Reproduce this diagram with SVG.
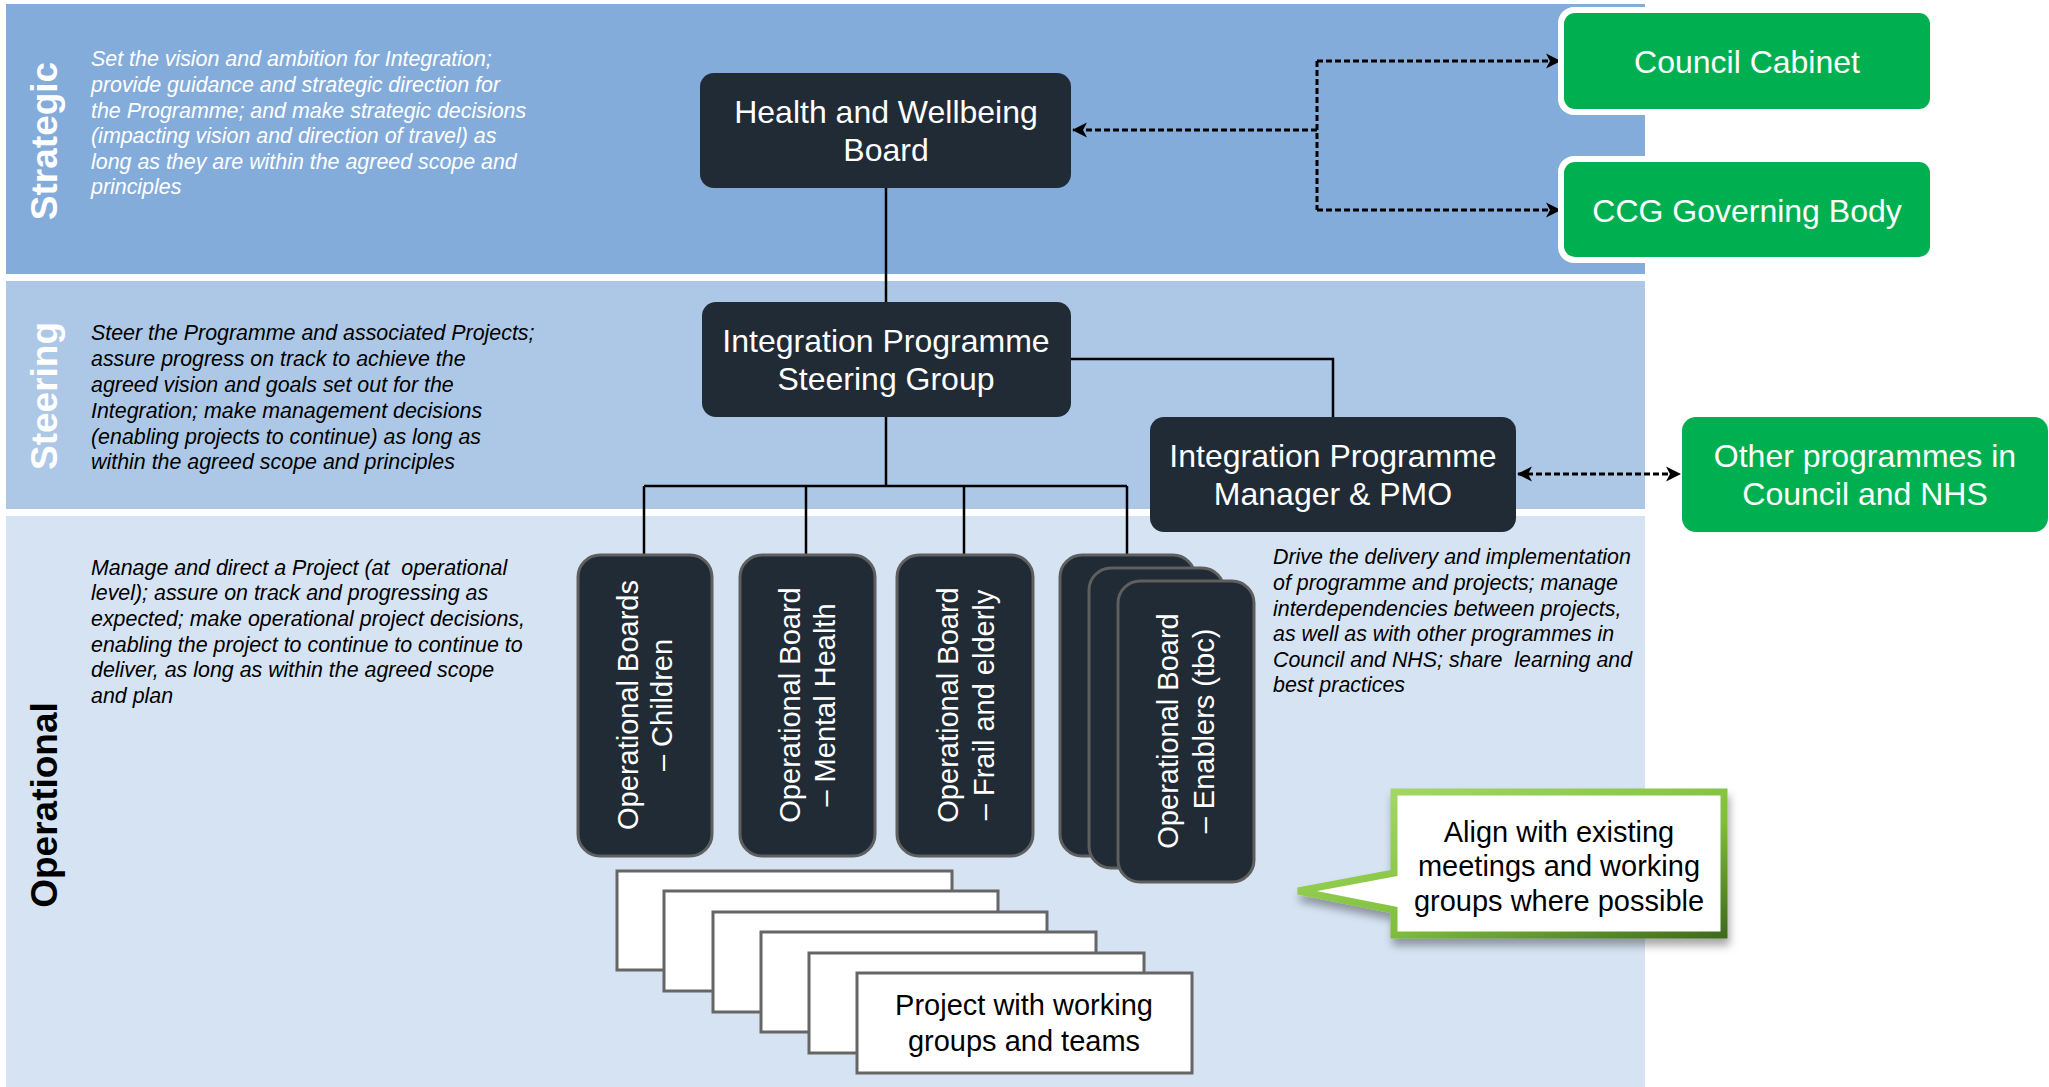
<svg xmlns="http://www.w3.org/2000/svg" width="2049" height="1087" viewBox="0 0 2049 1087">
  <style>
    text { font-family: "Liberation Sans", Arial, sans-serif; white-space: pre; }
    .band-label { font-size: 37px; font-weight: bold; text-anchor: middle; }
    .desc { font-size: 21.4px; font-style: italic; }
    .node-dark { fill: #212b36; }
    .node-text { fill: #ffffff; font-size: 32px; text-anchor: middle; }
    .board { fill: #212b36; stroke: #5f5f5f; stroke-width: 3; }
    .board-text { fill: #ffffff; font-size: 29px; text-anchor: middle; }
    .green { fill: #00b050; }
    .halo { fill: #ffffff; }
    .project { fill: #ffffff; stroke: #666666; stroke-width: 3; }
    .solid { fill: none; stroke: #000000; stroke-width: 2.5; }
    .dashed { fill: none; stroke: #000000; stroke-width: 3; stroke-dasharray: 6 3; }
  </style>
  <defs>
    <marker id="arrow" viewBox="0 0 15 16" refX="14" refY="8" markerWidth="15" markerHeight="16" markerUnits="userSpaceOnUse" orient="auto-start-reverse">
      <path d="M0,0.5 L15,8 L0,15.5 L4,8 Z" fill="#000000"/>
    </marker>
    <linearGradient id="calloutEdge" x1="0" y1="0" x2="1" y2="1">
      <stop offset="0" stop-color="#a9dc6c"/>
      <stop offset="0.6" stop-color="#7fbf3a"/>
      <stop offset="1" stop-color="#3f6b1e"/>
    </linearGradient>
    <filter id="shadow" x="-10%" y="-10%" width="125%" height="135%">
      <feDropShadow dx="2" dy="7" stdDeviation="4" flood-color="#000000" flood-opacity="0.35"/>
    </filter>
  </defs>

  <!-- Tier bands -->
  <g id="bands">
    <rect x="6" y="4" width="1639" height="270" fill="#84acdb"/>
    <rect x="6" y="281" width="1639" height="228" fill="#adc8e6"/>
    <rect x="6" y="516" width="1639" height="571" fill="#d6e3f3"/>
  </g>

  <!-- Tier labels -->
  <g id="tier-labels">
    <text class="band-label" fill="#ffffff" transform="translate(57,141) rotate(-90)">Strategic</text>
    <text class="band-label" fill="#ffffff" transform="translate(57,396) rotate(-90)">Steering</text>
    <text class="band-label" fill="#000000" font-size="38" transform="translate(57,805) rotate(-90)">Operational</text>
  </g>

  <!-- Tier descriptions -->
  <g id="strategic-desc">
    <text x="91" y="66" class="desc" fill="#ffffff">Set the vision and ambition for Integration;</text>
    <text x="91" y="92" class="desc" fill="#ffffff">provide guidance and strategic direction for</text>
    <text x="91" y="118" class="desc" fill="#ffffff">the Programme; and make strategic decisions</text>
    <text x="91" y="143" class="desc" fill="#ffffff">(impacting vision and direction of travel) as</text>
    <text x="91" y="169" class="desc" fill="#ffffff">long as they are within the agreed scope and</text>
    <text x="91" y="194" class="desc" fill="#ffffff">principles</text>
  </g>
  <g id="steering-desc">
    <text x="91" y="340" class="desc">Steer the Programme and associated Projects;</text>
    <text x="91" y="366" class="desc">assure progress on track to achieve the</text>
    <text x="91" y="392" class="desc">agreed vision and goals set out for the</text>
    <text x="91" y="418" class="desc">Integration; make management decisions</text>
    <text x="91" y="444" class="desc">(enabling projects to continue) as long as</text>
    <text x="91" y="469" class="desc">within the agreed scope and principles</text>
  </g>
  <g id="operational-desc">
    <text x="91" y="575" class="desc">Manage and direct a Project (at  operational</text>
    <text x="91" y="600" class="desc">level); assure on track and progressing as</text>
    <text x="91" y="626" class="desc">expected; make operational project decisions,</text>
    <text x="91" y="652" class="desc">enabling the project to continue to continue to</text>
    <text x="91" y="677" class="desc">deliver, as long as within the agreed scope</text>
    <text x="91" y="703" class="desc">and plan</text>
  </g>
  <g id="pmo-desc">
    <text x="1273" y="564" class="desc">Drive the delivery and implementation</text>
    <text x="1273" y="590" class="desc">of programme and projects; manage</text>
    <text x="1273" y="616" class="desc">interdependencies between projects,</text>
    <text x="1273" y="641" class="desc">as well as with other programmes in</text>
    <text x="1273" y="667" class="desc">Council and NHS; share  learning and</text>
    <text x="1273" y="692" class="desc">best practices</text>
  </g>

  <!-- Connectors -->
  <g id="connectors">
    <path class="solid" d="M886,188 V302"/>
    <path class="solid" d="M1071,359 H1333 V417"/>
    <path class="solid" d="M886,417 V486"/>
    <path class="solid" d="M644,486 H1127"/>
    <path class="solid" d="M644,486 V554 M806,486 V554 M964,486 V554 M1127,486 V554"/>
    <path class="dashed" d="M1317,130 H1073" marker-end="url(#arrow)"/>
    <path class="dashed" d="M1317,61 V210"/>
    <path class="dashed" d="M1317,61 H1560" marker-end="url(#arrow)"/>
    <path class="dashed" d="M1317,210 H1560" marker-end="url(#arrow)"/>
    <path class="dashed" d="M1518,474 H1680" marker-start="url(#arrow)" marker-end="url(#arrow)"/>
  </g>

  <!-- Strategic tier -->
  <g id="hwb">
    <rect class="node-dark" x="700" y="73" width="371" height="115" rx="14"/>
    <text class="node-text" x="886" y="123">Health and Wellbeing</text>
    <text class="node-text" x="886" y="161">Board</text>
  </g>
  <g id="council-cabinet">
    <rect class="halo" x="1558" y="7" width="380" height="108" rx="16"/>
    <rect class="green" x="1564" y="13" width="366" height="96" rx="11"/>
    <text class="node-text" x="1747" y="73">Council Cabinet</text>
  </g>
  <g id="ccg">
    <rect class="halo" x="1558" y="156" width="380" height="107" rx="16"/>
    <rect class="green" x="1564" y="162" width="366" height="95" rx="11"/>
    <text class="node-text" x="1747" y="222">CCG Governing Body</text>
  </g>

  <!-- Steering tier -->
  <g id="steering-group">
    <rect class="node-dark" x="702" y="302" width="369" height="115" rx="14"/>
    <text class="node-text" x="886" y="352">Integration Programme</text>
    <text class="node-text" x="886" y="390">Steering Group</text>
  </g>
  <g id="programme-manager">
    <rect class="node-dark" x="1150" y="417" width="366" height="115" rx="14"/>
    <text class="node-text" x="1333" y="467">Integration Programme</text>
    <text class="node-text" x="1333" y="505">Manager &amp; PMO</text>
  </g>
  <g id="other-programmes">
    <rect class="green" x="1682" y="417" width="366" height="115" rx="14"/>
    <text class="node-text" x="1865" y="467">Other programmes in</text>
    <text class="node-text" x="1865" y="505">Council and NHS</text>
  </g>

  <!-- Operational boards -->
  <g id="board-children">
    <rect class="board" x="578" y="555" width="134" height="301" rx="22"/>
    <g transform="translate(645,705) rotate(-90)">
      <text class="board-text" x="0" y="-7">Operational Boards</text>
      <text class="board-text" x="0" y="27">– Children</text>
    </g>
  </g>
  <g id="board-mental-health">
    <rect class="board" x="740" y="555" width="135" height="301" rx="22"/>
    <g transform="translate(807,705) rotate(-90)">
      <text class="board-text" x="0" y="-7">Operational Board</text>
      <text class="board-text" x="0" y="28">– Mental Health</text>
    </g>
  </g>
  <g id="board-frail-elderly">
    <rect class="board" x="897" y="555" width="136" height="301" rx="22"/>
    <g transform="translate(965,705) rotate(-90)">
      <text class="board-text" x="0" y="-7">Operational Board</text>
      <text class="board-text" x="0" y="29">– Frail and elderly</text>
    </g>
  </g>
  <g id="board-enablers">
    <rect class="board" x="1060" y="555" width="135" height="301" rx="22"/>
    <rect class="board" x="1089" y="568" width="135" height="300" rx="22"/>
    <rect class="board" x="1118" y="581" width="136" height="301" rx="22"/>
    <g transform="translate(1186,731) rotate(-90)">
      <text class="board-text" x="0" y="-8">Operational Board</text>
      <text class="board-text" x="0" y="28">– Enablers (tbc)</text>
    </g>
  </g>

  <!-- Project stack -->
  <g id="projects">
    <rect class="project" x="617" y="871" width="335" height="99"/>
    <rect class="project" x="664" y="891" width="334" height="100"/>
    <rect class="project" x="713" y="912" width="334" height="100"/>
    <rect class="project" x="761" y="932" width="335" height="100"/>
    <rect class="project" x="809" y="953" width="335" height="100"/>
    <rect class="project" x="857" y="973" width="335" height="100"/>
    <text x="1024" y="1015" font-size="29" text-anchor="middle">Project with working</text>
    <text x="1024" y="1051" font-size="29" text-anchor="middle">groups and teams</text>
  </g>

  <!-- Callout -->
  <g id="callout">
    <path d="M1394,792 H1724 V935 H1394 V910 L1298,891 L1394,873 Z" fill="#ffffff" stroke="url(#calloutEdge)" stroke-width="7" stroke-linejoin="miter" filter="url(#shadow)"/>
    <text x="1559" y="842" font-size="29" text-anchor="middle">Align with existing</text>
    <text x="1559" y="876" font-size="29" text-anchor="middle">meetings and working</text>
    <text x="1559" y="911" font-size="29" text-anchor="middle">groups where possible</text>
  </g>
</svg>
